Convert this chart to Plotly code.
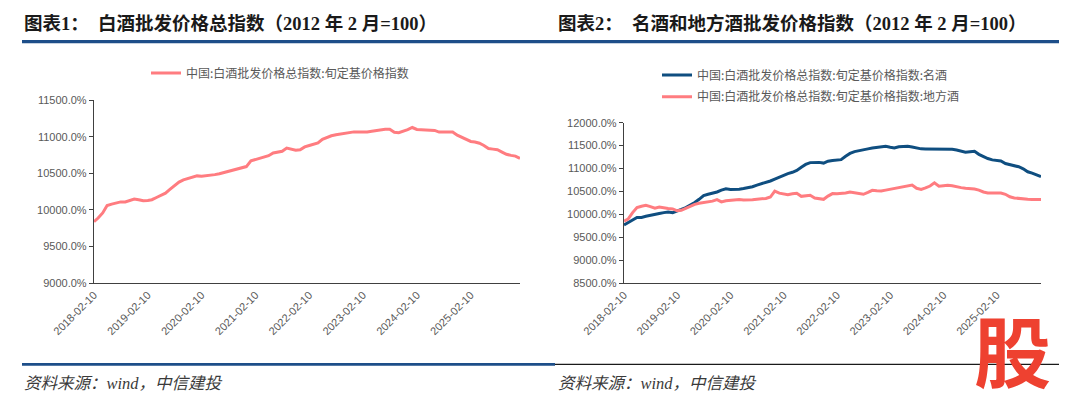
import plotly.graph_objects as go
import pandas as pd

W, H = 1080, 404

# ---- data (monthly readings, 2018-02-10 onward) ----
total_index = [
    9840, 9890, 9960, 10060, 10080, 10095, 10110, 10110, 10130, 10150, 10140, 10125,
    10130, 10140, 10170, 10205, 10230, 10280, 10330, 10380, 10410, 10425, 10450, 10465,
    10460, 10465, 10475, 10482, 10495, 10510, 10525, 10545, 10560, 10578, 10592, 10670,
    10688, 10700, 10715, 10740, 10778, 10785, 10800, 10845, 10830, 10815, 10820, 10860,
    10880, 10895, 10915, 10965, 10990, 11012, 11025, 11035, 11050, 11060, 11065, 11062,
    11062, 11065, 11075, 11085, 11095, 11100, 11100, 11060, 11055, 11072, 11095, 11125,
    11098, 11095, 11095, 11095, 11085, 11063, 11060, 11060, 11063, 11020, 10990, 10955,
    10935, 10928, 10910, 10880, 10838, 10830, 10822, 10790, 10760, 10745, 10735, 10705,
]
famous_index = [
    9770, 9830, 9880, 9935, 9935, 9960, 9985, 10000, 10020, 10040, 10056, 10040,
    10070, 10110, 10150, 10200, 10260, 10330, 10410, 10440, 10460, 10490, 10530, 10560,
    10545, 10540, 10550, 10565, 10580, 10605, 10640, 10665, 10700, 10730, 10770, 10815,
    10860, 10890, 10920, 10960, 11030, 11090, 11130, 11140, 11135, 11120, 11160, 11175,
    11185, 11195, 11270, 11330, 11370, 11395, 11410, 11430, 11450, 11465, 11480, 11485,
    11465, 11450, 11475, 11485, 11485, 11470, 11450, 11430, 11428, 11428, 11428, 11428,
    11428, 11425, 11420, 11405, 11380, 11355, 11365, 11375, 11310, 11260, 11220, 11190,
    11185, 11165, 11110, 11085, 11068, 11040, 10995, 10930, 10900, 10870, 10825,
]
local_index = [
    9855, 9900, 10040, 10150, 10180, 10200, 10170, 10135, 10160, 10140, 10130, 10120,
    10080, 10090, 10140, 10170, 10220, 10245, 10255, 10275, 10290, 10325, 10275, 10300,
    10310, 10315, 10325, 10315, 10310, 10320, 10330, 10335, 10350, 10380, 10510, 10465,
    10440, 10430, 10450, 10460, 10395, 10405, 10418, 10360, 10340, 10330, 10400, 10455,
    10450, 10455, 10470, 10490, 10470, 10445, 10440, 10480, 10525, 10515, 10510, 10530,
    10550, 10565, 10580, 10598, 10620, 10640, 10570, 10545, 10580, 10620, 10690, 10615,
    10625, 10635, 10625, 10600, 10585, 10570, 10565, 10555, 10530, 10490, 10470, 10465,
    10467, 10467, 10440, 10385, 10360, 10346, 10335, 10330, 10325, 10324, 10325,
]
x_tick_labels = ["2018-02-10", "2019-02-10", "2020-02-10", "2021-02-10",
                 "2022-02-10", "2023-02-10", "2024-02-10", "2025-02-10"]

name_total = "中国:白酒批发价格总指数:旬定基价格指数"
name_famous = "中国:白酒批发价格总指数:旬定基价格指数:名酒"
name_local = "中国:白酒批发价格总指数:旬定基价格指数:地方酒"
title1 = "图表1：  白酒批发价格总指数（2012 年 2 月=100）"
title2 = "图表2：  名酒和地方酒批发价格指数（2012 年 2 月=100）"
source = "资料来源：wind，中信建投"


def month_dates(n):
    return pd.date_range("2018-02-01", periods=n, freq="MS") + pd.Timedelta(days=9)


def px(v):
    return v / W


def py(v):
    return 1 - v / H


PINK = "#FF7C80"
BLUE = "#0F4E80"
GRAY = "#595959"
RULE = "#1D4E89"

d1 = month_dates(len(total_index))
d2 = month_dates(len(famous_index))

fig = go.Figure()
fig.add_trace(go.Scatter(x=d1, y=total_index, mode="lines", name=name_total,
                         line=dict(color=PINK, width=3), xaxis="x", yaxis="y",
                         legend="legend"))
fig.add_trace(go.Scatter(x=d2, y=famous_index, mode="lines", name=name_famous,
                         line=dict(color=BLUE, width=3), xaxis="x2", yaxis="y2",
                         legend="legend2"))
fig.add_trace(go.Scatter(x=d2, y=local_index, mode="lines", name=name_local,
                         line=dict(color=PINK, width=3), xaxis="x2", yaxis="y2",
                         legend="legend3"))

tickfont = dict(family="Liberation Sans, Arial, sans-serif", size=11, color=GRAY)
tickvals = pd.to_datetime(x_tick_labels)

xcommon = dict(type="date", showgrid=False, zeroline=False, showline=True,
               linecolor="#404040", linewidth=1.3, ticks="", tickangle=-45,
               tickvals=tickvals, ticktext=x_tick_labels, tickfont=tickfont,
               automargin=False)
ycommon = dict(showgrid=False, zeroline=False, showline=True, linecolor="#404040",
               linewidth=1.3, ticks="outside", ticklen=4, tickcolor="#404040",
               tickformat=".1f", ticksuffix="%", dtick=500, tickfont=tickfont,
               automargin=False)

legfont = dict(family="Noto Sans CJK SC", size=12, color=GRAY)
legcommon = dict(font=legfont, bgcolor="rgba(0,0,0,0)", borderwidth=0,
                 xanchor="left", yanchor="middle", orientation="h")

fig.update_layout(
    width=W, height=H,
    margin=dict(l=0, r=0, t=0, b=0, pad=0, autoexpand=False),
    paper_bgcolor="white", plot_bgcolor="white", showlegend=True,
    xaxis=dict(xcommon, domain=[px(94), px(520)], anchor="y",
               range=[d1[0], d1[-1]]),
    yaxis=dict(ycommon, domain=[py(283.3), py(100)], anchor="x",
               range=[9000, 11500]),
    xaxis2=dict(xcommon, domain=[px(624), px(1041)], anchor="y2",
                range=[d2[0], d2[-1]]),
    yaxis2=dict(ycommon, domain=[py(283.3), py(122.7)], anchor="x2",
                range=[8500, 12000]),
    legend=dict(legcommon, x=px(146), y=py(73)),
    legend2=dict(legcommon, x=px(657), y=py(75)),
    legend3=dict(legcommon, x=px(657), y=py(96.7)),
)

titlefont = dict(family="Liberation Serif, Noto Sans CJK SC", size=18.5,
                 color="#1a1a1a", weight="bold")
srcfont = dict(family="Liberation Serif, Noto Sans CJK SC", size=16.5,
               color="#3a3a3a", style="italic")

annotations = [
    dict(text=title1, x=px(22), y=py(23.5), font=titlefont),
    dict(text=title2, x=px(556), y=py(23.5), font=titlefont),
    dict(text=source, x=px(22), y=py(383), font=srcfont),
    dict(text=source, x=px(556), y=py(383), font=srcfont),
]
for a in annotations:
    fig.add_annotation(xref="paper", yref="paper", xanchor="left",
                       yanchor="middle", showarrow=False, **a)

shapes = [
    dict(x0=px(22), x1=px(1059), y0=py(41.7), y1=py(41.7),
         line=dict(color=RULE, width=3.3)),
    dict(x0=px(555), x1=px(1059), y0=py(364.4), y1=py(364.4),
         line=dict(color="#1a1a1a", width=1.4)),
    dict(x0=px(22), x1=px(555), y0=py(364.4), y1=py(364.4),
         line=dict(color=RULE, width=2.6)),
]
for s in shapes:
    fig.add_shape(type="line", xref="paper", yref="paper", **s)

# red logo glyph
fig.add_annotation(xref="paper", yref="paper", x=px(1012), y=py(348),
                   xanchor="center", yanchor="middle", showarrow=False,
                   text="股", font=dict(family="Noto Sans CJK SC", size=77,
                                       color="#EE4130", weight="bold"))

fig.write_html(
    "out.html",
    config={"displayModeBar": False},
    post_script="document.body.style.margin='0';"
                "document.body.style.overflow='hidden';",
)
